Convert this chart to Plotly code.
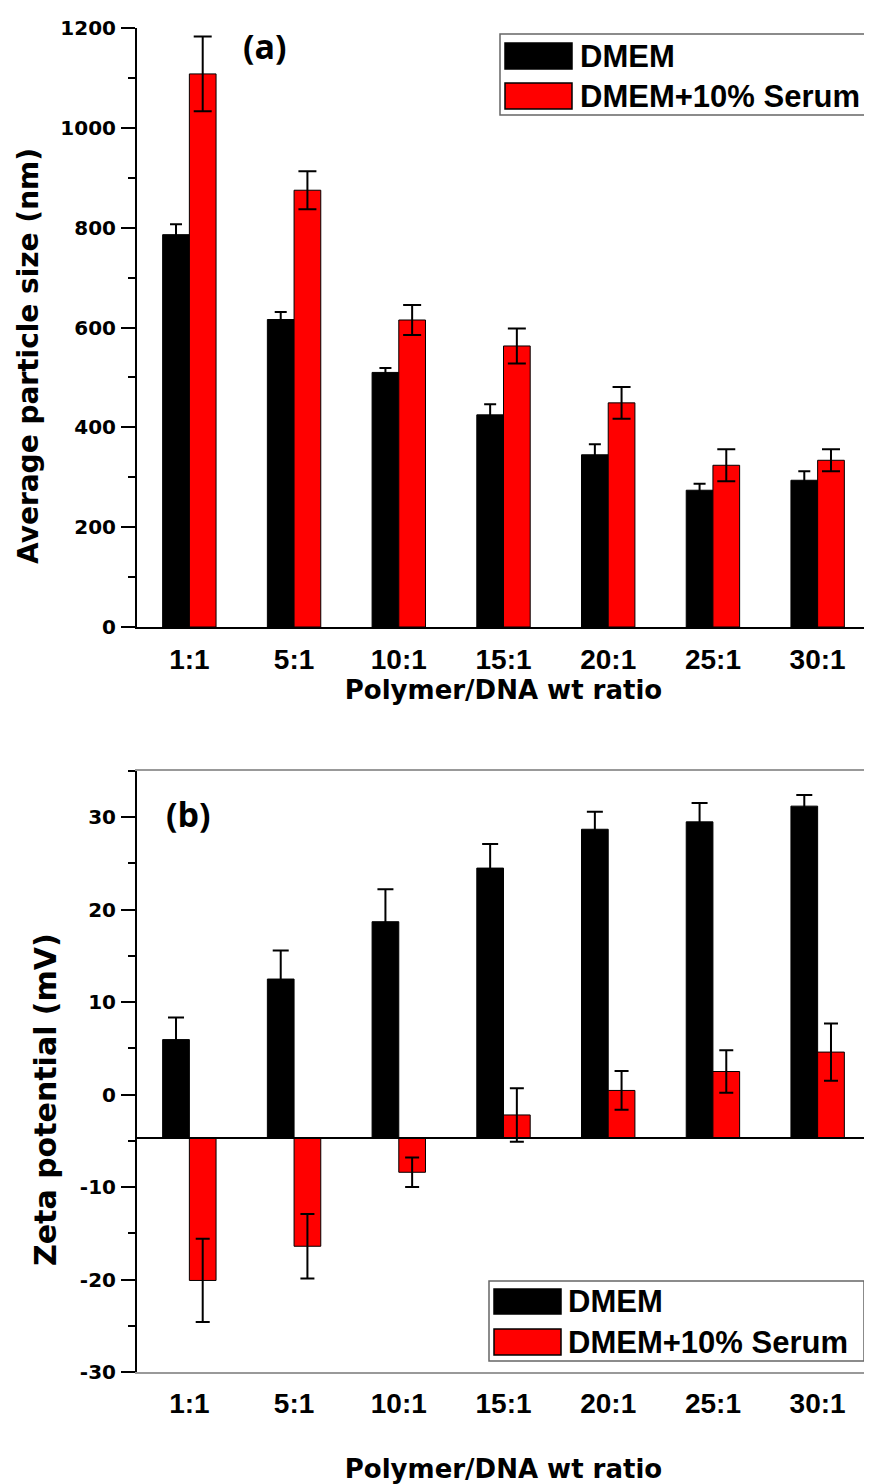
import plotly.graph_objects as go
from plotly.subplots import make_subplots

# ---------------- data ----------------
categories = ["1:1", "5:1", "10:1", "15:1", "20:1", "25:1", "30:1"]

size_dmem = [786, 616, 510, 425, 345, 274, 294]
size_dmem_err = [21, 15, 9, 21, 21, 13, 18]
size_serum = [1108, 875, 615, 563, 449, 324, 334]
size_serum_err = [75, 38, 30, 35, 32, 32, 22]

zeta_dmem = [5.95, 12.5, 18.7, 24.5, 28.7, 29.5, 31.2]
zeta_dmem_err = [2.4, 3.1, 3.5, 2.6, 1.9, 2.05, 1.2]
zeta_serum = [-20.1, -16.4, -8.4, -2.2, 0.45, 2.5, 4.6]
zeta_serum_err = [4.5, 3.5, 1.6, 2.9, 2.1, 2.3, 3.1]
zeta_base = -4.7  # bars in panel (b) start from this level

size_ticks = [0, 200, 400, 600, 800, 1000, 1200]
zeta_ticks = [-30, -20, -10, 0, 10, 20, 30]

series_names = ["DMEM", "DMEM+10% Serum"]
series_colors = ["#000000", "#FF0000"]

# ---------------- layout geometry (page pixels; page body has an 8 px margin) ----------------
OFF = 8
W, H = 872 - OFF, 1484 - OFF
PLOT_L, PLOT_R, PLOT_T, PLOT_B = 137, 870, 28, 1372  # page pixel box of both panels
ML, MT = PLOT_L - OFF, PLOT_T - OFF
MR = W - (PLOT_R - OFF)
MB = H - (PLOT_B - OFF)
PW, PH = W - ML - MR, H - MT - MB


def px(x):
    return (x - PLOT_L) / PW


def py(y):
    return (PLOT_B - y) / PH


ARIAL = "Liberation Sans, Arial, sans-serif"
DEJAVU = "DejaVu Sans, sans-serif"

fig = make_subplots(rows=2, cols=1, vertical_spacing=0.1)
fig.update_layout(
    xaxis=dict(domain=[0, 1]),
    yaxis=dict(domain=[py(627), 1]),
    xaxis2=dict(domain=[0, 1]),
    yaxis2=dict(domain=[0, py(771)]),
)

x_idx = list(range(len(categories)))

# panel (a)
for name, color, vals, errs, ew in [
    (series_names[0], series_colors[0], size_dmem, size_dmem_err, 6),
    (series_names[1], series_colors[1], size_serum, size_serum_err, 9),
]:
    fig.add_trace(
        go.Bar(
            x=x_idx, y=vals, name=name, showlegend=False,
            marker=dict(color=color, line=dict(color="#000000", width=1)),
            error_y=dict(type="data", array=errs, color="#000000", thickness=2, width=ew),
        ),
        row=1, col=1,
    )

# panel (b)
for name, color, vals, errs, ew in [
    (series_names[0], series_colors[0], zeta_dmem, zeta_dmem_err, 8),
    (series_names[1], series_colors[1], zeta_serum, zeta_serum_err, 7),
]:
    fig.add_trace(
        go.Bar(
            x=x_idx, y=[v - zeta_base for v in vals], base=zeta_base,
            name=name, showlegend=False,
            marker=dict(color=color, line=dict(color="#000000", width=1)),
            error_y=dict(type="data", array=errs, color="#000000", thickness=2, width=ew),
        ),
        row=2, col=1,
    )

fig.update_layout(
    width=W, height=H,
    margin=dict(l=ML, r=MR, t=MT, b=MB, autoexpand=False),
    paper_bgcolor="white", plot_bgcolor="white",
    barmode="group", bargap=0.49, bargroupgap=0,
    showlegend=False,
)

xcommon = dict(
    range=[-0.5, 6.5], tickmode="array", tickvals=x_idx, ticktext=categories,
    ticks="", showgrid=False, zeroline=False,
    tickfont=dict(family=ARIAL, size=28, weight="bold", color="#000"),
    ticklabelstandoff=6,
)
fig.update_xaxes(**xcommon)
fig.update_xaxes(showline=True, linecolor="#000", linewidth=2, row=1, col=1,
                 title=dict(text="Polymer/DNA wt ratio",
                            font=dict(family=DEJAVU, size=26, weight="bold", color="#000"),
                            standoff=5))
fig.update_xaxes(showline=True, linecolor="#999", linewidth=1.5, mirror=True, row=2, col=1,
                 title=dict(text="Polymer/DNA wt ratio",
                            font=dict(family=DEJAVU, size=26, weight="bold", color="#000"),
                            standoff=43))

ycommon = dict(
    showgrid=False, zeroline=False, showline=True, linecolor="#000", linewidth=2,
    ticks="outside", ticklen=14, tickwidth=2, tickcolor="#000",
    tickfont=dict(family=DEJAVU, size=20, weight="bold", color="#000"),
    ticklabelstandoff=1,
)
fig.update_yaxes(**ycommon)
fig.update_yaxes(range=[0, 1200], tickmode="array", tickvals=size_ticks,
                 ticktext=[str(t) for t in size_ticks],
                 minor=dict(ticks="outside", ticklen=7, tickwidth=2, tickcolor="#000", dtick=100),
                 row=1, col=1)
fig.update_yaxes(range=[-30, 35], tickmode="array", tickvals=zeta_ticks,
                 ticktext=[str(t) for t in zeta_ticks],
                 minor=dict(ticks="outside", ticklen=7, tickwidth=2, tickcolor="#000", dtick=5),
                 row=2, col=1)

shapes = []
# right frame of panel (b)
shapes.append(dict(type="line", xref="x2 domain", yref="y2 domain", x0=1, x1=1, y0=0, y1=1,
                   line=dict(color="#999", width=1.5)))
# baseline of panel (b) bars
shapes.append(dict(type="line", xref="x2 domain", yref="y2", x0=0, x1=1, y0=zeta_base, y1=zeta_base,
                   line=dict(color="#000", width=2)))

annotations = []

# y-axis titles (placed slightly below the axis centre, as in the original figure)
annotations.append(dict(xref="paper", yref="paper", x=px(28), y=py(356), xanchor="center", yanchor="middle",
                        textangle=-90, showarrow=False, text="Average particle size (nm)",
                        font=dict(family=DEJAVU, size=28, weight="bold", color="#000")))
annotations.append(dict(xref="paper", yref="paper", x=px(45), y=py(1100), xanchor="center", yanchor="middle",
                        textangle=-90, showarrow=False, text="Zeta potential (mV)",
                        font=dict(family=DEJAVU, size=30, weight="bold", color="#000")))


def add_legend(box, sw_x, rows, text_x):
    x0, x1, y0, y1 = box
    shapes.append(dict(type="rect", xref="paper", yref="paper", x0=px(x0), x1=px(x1), y0=py(y1), y1=py(y0),
                       line=dict(color="#666", width=1.5), fillcolor="rgba(0,0,0,0)"))
    for (ra, rb), name, color in zip(rows, series_names, series_colors):
        shapes.append(dict(type="rect", xref="paper", yref="paper", x0=px(sw_x[0]), x1=px(sw_x[1]),
                           y0=py(rb), y1=py(ra), line=dict(color="#000", width=1.5), fillcolor=color))
        annotations.append(dict(xref="paper", yref="paper", x=px(text_x), y=py((ra + rb) / 2),
                                xanchor="left", yanchor="middle", showarrow=False, text=name,
                                font=dict(family=ARIAL, size=31, weight="bold", color="#000")))


add_legend((500, 870, 34, 115), (505, 572), [(43, 69), (83, 109)], 578)
add_legend((489, 864, 1281, 1361), (494, 561), [(1289, 1314), (1329, 1355)], 566)

annotations.append(dict(xref="paper", yref="paper", x=px(265), y=py(46), xanchor="center", yanchor="middle",
                        showarrow=False, text="(a)",
                        font=dict(family="Open Sans, sans-serif", size=34, weight="bold", color="#000")))
annotations.append(dict(xref="paper", yref="paper", x=px(188), y=py(814), xanchor="center", yanchor="middle",
                        showarrow=False, text="(b)",
                        font=dict(family="Open Sans, sans-serif", size=34, weight="bold", color="#000")))

fig.update_layout(shapes=shapes, annotations=annotations)

fig.write_html("out.html")
